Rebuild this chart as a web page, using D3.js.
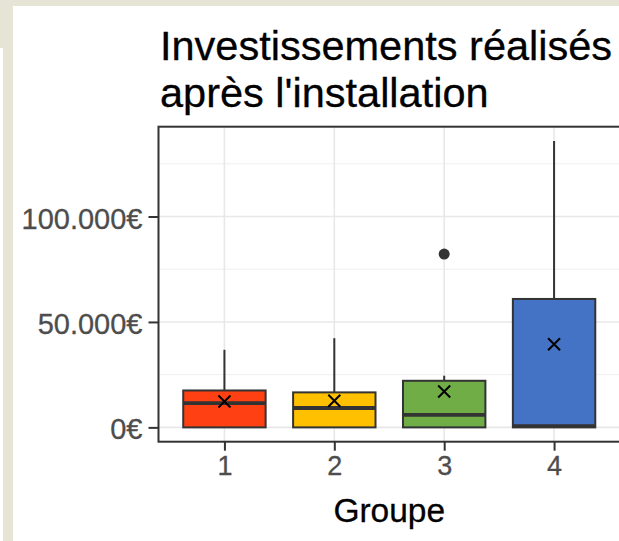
<!DOCTYPE html>
<html>
<head>
<meta charset="utf-8">
<script src="https://cdn.jsdelivr.net/npm/d3@7"></script>
<style>
  body { margin: 0; background: #fff; }
  svg { display: block; font-family: "Liberation Sans", Arial, sans-serif; }
</style>
</head>
<body>
<div id="chart"></div>
<script>
// data
const groups = ["1", "2", "3", "4"];
const q1 = [0, 0, 0, 0];
const medians = [11500, 9200, 5900, 600];
const q3 = [17500, 16600, 22100, 60900];
const whiskLow = [0, 0, 0, 0];
const whiskHigh = [36800, 42300, 24500, 135800];
const means = [12300, 12600, 17000, 39400];
const outliers = [[], [], [82200], []];
const yTicks = [0, 50000, 100000];
const yMinor = [25000, 75000, 125000];
const colors = ["#FF4013", "#FFC000", "#70AD47", "#4472C4"];

const W = 619, H = 541;
const svg = d3.select("#chart").append("svg")
    .attr("width", W)
    .attr("height", H);

// beige page background strips
svg.append("rect").attr("x", 0).attr("y", 0).attr("width", W).attr("height", 6).attr("fill", "#e6e4d4");
svg.append("rect").attr("x", 0).attr("y", 0).attr("width", 13).attr("height", 48).attr("fill", "#e6e4d4");
svg.append("rect").attr("x", 3).attr("y", 0).attr("width", 10).attr("height", H).attr("fill", "#e6e4d4");

const panel = { left: 158.5, right: 620, top: 126.7, bottom: 441.7 };

// ggplot-like expansion
const allMax = d3.max([...whiskHigh, ...outliers.flat()]);
const allMin = d3.min(whiskLow);
const span = allMax - allMin;
const y = d3.scaleLinear()
    .domain([allMin - 0.05 * span, allMax + 0.05 * span])
    .range([panel.bottom, panel.top]);

const unit = (panel.right - panel.left) / 4.2;
const x = d3.scalePoint()
    .domain(groups)
    .range([panel.left + 0.6 * unit, panel.right - 0.6 * unit]);
const boxW = 0.75 * unit;

const loc = d3.formatLocale({ decimal: ",", thousands: ".", grouping: [3], currency: ["", "€"] });
const fmt = d => loc.format(",.0f")(d) + "€";

// grid
const g = svg.append("g");
g.selectAll(".minor").data(yMinor).enter().append("line")
    .attr("x1", panel.left).attr("x2", panel.right)
    .attr("y1", d => y(d)).attr("y2", d => y(d))
    .attr("stroke", "#efefef").attr("stroke-width", 1);
g.selectAll(".major").data(yTicks).enter().append("line")
    .attr("x1", panel.left).attr("x2", panel.right)
    .attr("y1", d => y(d)).attr("y2", d => y(d))
    .attr("stroke", "#e8e8e8").attr("stroke-width", 1.6);
g.selectAll(".vmajor").data(groups).enter().append("line")
    .attr("x1", d => x(d)).attr("x2", d => x(d))
    .attr("y1", panel.top).attr("y2", panel.bottom)
    .attr("stroke", "#e8e8e8").attr("stroke-width", 1.6);

// whiskers
g.selectAll(".whisk").data(groups).enter().append("line")
    .attr("x1", d => x(d)).attr("x2", d => x(d))
    .attr("y1", (d, i) => y(whiskLow[i])).attr("y2", (d, i) => y(whiskHigh[i]))
    .attr("stroke", "#333").attr("stroke-width", 2);

// boxes
g.selectAll(".box").data(groups).enter().append("rect")
    .attr("x", d => x(d) - boxW / 2)
    .attr("width", boxW)
    .attr("y", (d, i) => y(q3[i]))
    .attr("height", (d, i) => y(q1[i]) - y(q3[i]))
    .attr("fill", (d, i) => colors[i])
    .attr("stroke", "#333").attr("stroke-width", 2);

// medians
g.selectAll(".med").data(groups).enter().append("line")
    .attr("x1", d => x(d) - boxW / 2).attr("x2", d => x(d) + boxW / 2)
    .attr("y1", (d, i) => y(medians[i])).attr("y2", (d, i) => y(medians[i]))
    .attr("stroke", "#333").attr("stroke-width", 3.8);

// outliers
groups.forEach((grp, i) => {
    g.selectAll(".out" + i).data(outliers[i]).enter().append("circle")
        .attr("cx", x(grp)).attr("cy", d => y(d)).attr("r", 5.5)
        .attr("fill", "#333");
});

// means (x marks)
const s = 6;
g.selectAll(".mean").data(groups).enter().append("path")
    .attr("d", (d, i) => {
        const cx = x(d), cy = y(means[i]);
        return `M${cx - s},${cy - s}L${cx + s},${cy + s}M${cx - s},${cy + s}L${cx + s},${cy - s}`;
    })
    .attr("stroke", "#000").attr("stroke-width", 2).attr("fill", "none");

// panel border
svg.append("rect")
    .attr("x", panel.left).attr("y", panel.top)
    .attr("width", panel.right - panel.left).attr("height", panel.bottom - panel.top)
    .attr("fill", "none").attr("stroke", "#333").attr("stroke-width", 2);

// y axis
const yAxis = svg.append("g")
    .attr("transform", `translate(${panel.left},0)`)
    .call(d3.axisLeft(y).tickValues(yTicks).tickFormat(fmt).tickSize(10).tickPadding(6));
yAxis.select(".domain").remove();
yAxis.selectAll(".tick line").attr("stroke", "#333").attr("stroke-width", 2);
yAxis.selectAll(".tick text")
    .attr("fill", "#4d4d4d")
    .attr("stroke", "#4d4d4d").attr("stroke-width", 0.3)
    .style("font-size", "29px")
    .attr("dy", "0.4em");

// x axis
const xAxis = svg.append("g")
    .attr("transform", `translate(0,${panel.bottom})`)
    .call(d3.axisBottom(x).tickSize(9).tickPadding(5));
xAxis.select(".domain").remove();
xAxis.selectAll(".tick line").attr("stroke", "#333").attr("stroke-width", 2);
xAxis.selectAll(".tick text")
    .attr("fill", "#4d4d4d")
    .attr("stroke", "#4d4d4d").attr("stroke-width", 0.3)
    .style("font-size", "27px")
    .attr("dy", "0.71em");

// axis title
svg.append("text")
    .attr("x", (panel.left + panel.right) / 2)
    .attr("y", 522)
    .attr("text-anchor", "middle")
    .style("font-size", "33.5px")
    .attr("fill", "#000")
    .attr("stroke", "#000").attr("stroke-width", 0.3)
    .text("Groupe");

// title
const title = svg.append("text")
    .attr("x", 160)
    .style("font-size", "41.5px")
    .attr("fill", "#000")
    .attr("stroke", "#000").attr("stroke-width", 0.3);
title.append("tspan").attr("x", 160).attr("y", 59.5).text("Investissements réalisés");
title.append("tspan").attr("x", 160).attr("y", 106.5).text("après l'installation");
</script>
</body>
</html>
